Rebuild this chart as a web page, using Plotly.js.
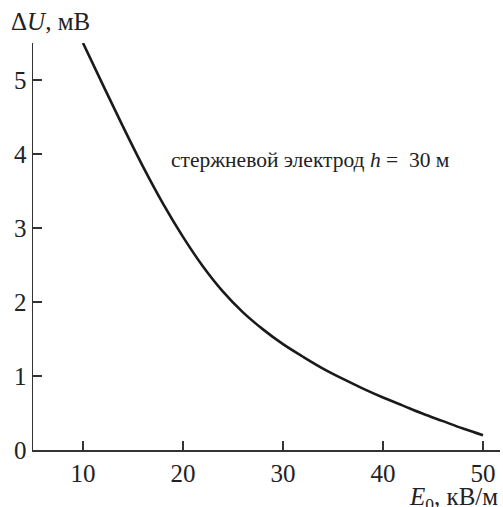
<!DOCTYPE html>
<html>
<head>
<meta charset="utf-8">
<script src="https://cdn.plot.ly/plotly-3.0.1.min.js"></script>
<style>html,body{margin:0;padding:0;background:#fff}#chart{width:503px;height:507px}</style>
</head>
<body>
<div id="chart"></div>
<script>
const E0 = [10, 12, 14, 16, 18, 20, 22, 24, 26, 28, 30, 32, 34, 36, 38, 40, 42, 44, 46, 48, 50];
const dU = [5.5, 4.93, 4.37, 3.83, 3.33, 2.88, 2.48, 2.14, 1.86, 1.63, 1.43, 1.26, 1.1, 0.96, 0.83, 0.71, 0.6, 0.49, 0.39, 0.29, 0.2];
const xTicks = [10, 20, 30, 40, 50];
const yTicks = [0, 1, 2, 3, 4, 5];
const xLabel = '<i>E</i><sub>0</sub>, кВ/м';
const yLabel = 'Δ<i>U</i>, мВ';
const note = 'стержневой электрод <i>h</i> =  30 м';

const serif = 'Liberation Serif';
const axisCommon = {
  showgrid: false, zeroline: false, showline: true, linecolor: '#333', linewidth: 1.5,
  ticks: 'inside', ticklen: 9, tickwidth: 1.3, tickcolor: '#333',
  tickfont: {family: serif, size: 25, color: '#222'}, tickmode: 'array'
};
const trace = {x: E0, y: dU, mode: 'lines', line: {color: '#1a1a1a', width: 2.6, shape: 'spline', smoothing: 1}, hoverinfo: 'skip'};
const layout = {
  width: 503, height: 507,
  margin: {l: 33, r: 3, t: 43, b: 57},
  paper_bgcolor: '#fff', plot_bgcolor: '#fff', showlegend: false,
  xaxis: Object.assign({}, axisCommon, {range: [5, 51.7], tickvals: xTicks, ticktext: xTicks.map(String)}),
  yaxis: Object.assign({}, axisCommon, {range: [0, 5.5], tickvals: yTicks, ticktext: yTicks.map(String)}),
  annotations: [
    {xref: 'paper', yref: 'paper', x: 1, y: 0, xanchor: 'right', yanchor: 'top', yshift: -31, xshift: 0,
     text: xLabel, showarrow: false, font: {family: serif, size: 25, color: '#222'}},
    {xref: 'paper', yref: 'paper', x: 0, y: 1, xanchor: 'left', yanchor: 'bottom', xshift: -24, yshift: 6,
     text: yLabel, showarrow: false, font: {family: serif, size: 25, color: '#222'}},
    {xref: 'x', yref: 'y', x: 18.6, y: 3.92, xanchor: 'left', yanchor: 'middle',
     text: note, showarrow: false, font: {family: serif, size: 21.5, color: '#222'}}
  ]
};
Plotly.newPlot('chart', [trace], layout, {staticPlot: true, displayModeBar: false});
</script>
</body>
</html>
